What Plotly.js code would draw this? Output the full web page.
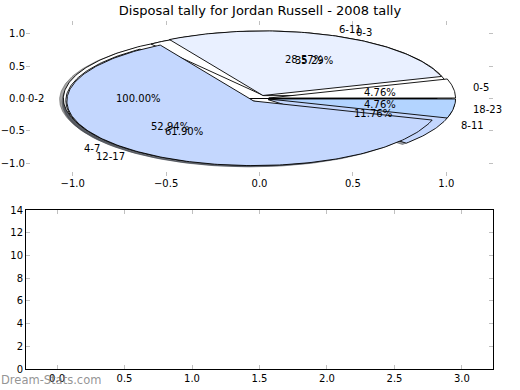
<!DOCTYPE html>
<html><head><meta charset="utf-8">
<script src="https://cdn.plot.ly/plotly-3.0.1.min.js"></script>
<style>html,body{margin:0;padding:0;background:#fff}</style>
</head><body><div id="chart" style="width:520px;height:390px"></div>
<script>
const titleText = 'Disposal tally for Jordan Russell - 2008 tally';
// Pie A (drawn first, underneath)
const pieALabels = ['0-2'];
const pieAValues = [1];
// Pie B
const pieBLabels = ['0-3', '4-7', '8-11'];
const pieBValues = [6, 9, 2];
// Pie C (drawn last, on top)
const pieCLabels = ['0-5', '6-11', '12-17', '18-23'];
const pieCValues = [1, 6, 13, 1];
const sliceColors = ['#ffffff', '#e9f0ff', '#c4d7fe', '#b3d4ff'];
// lower (empty) panel ticks
const lowerXTicks = [0, 0.5, 1, 1.5, 2, 2.5, 3];
const lowerYTicks = [0, 2, 4, 6, 8, 10, 12, 14];

const pies = [
  {labels: pieALabels, values: pieAValues},
  {labels: pieBLabels, values: pieBValues},
  {labels: pieCLabels, values: pieCValues}
];
const EXPLODE = 0.05, SHX = -0.02, SHY = -0.02, LABR = 1.1, PCTR = 0.6;
const FONT = 'DejaVu Sans, sans-serif';

function hexToRgb(h){const n=parseInt(h.slice(1),16);return [(n>>16)&255,(n>>8)&255,n&255];}
function wedgePts(t1,t2,cx,cy){
  const xs=[cx], ys=[cy];
  const n=Math.max(4,Math.ceil((t2-t1)*180/Math.PI));
  for(let i=0;i<=n;i++){const a=t1+(t2-t1)*i/n;xs.push(cx+Math.cos(a));ys.push(cy+Math.sin(a));}
  xs.push(cx); ys.push(cy);
  return {xs,ys};
}

const shadowTraces=[], wedgeTraces=[], annotations=[];
pies.forEach(p=>{
  const total=p.values.reduce((a,b)=>a+b,0);
  let theta=0;
  p.values.forEach((v,i)=>{
    const frac=v/total;
    const t1=theta, t2=theta+frac*2*Math.PI, mid=(t1+t2)/2;
    theta=t2;
    const cx=EXPLODE*Math.cos(mid), cy=EXPLODE*Math.sin(mid);
    const col=sliceColors[i%sliceColors.length];
    const rgb=hexToRgb(col);
    const w=wedgePts(t1,t2,cx,cy);
    const sc='rgba('+rgb.map(c=>Math.round(c*0.3)).join(',')+',0.5)';
    shadowTraces.push({type:'scatter',mode:'lines',x:w.xs.map(x=>x+SHX),y:w.ys.map(y=>y+SHY),
      fill:'toself',fillcolor:sc,line:{color:sc,width:1},hoverinfo:'skip',showlegend:false,xaxis:'x',yaxis:'y'});
    wedgeTraces.push({type:'scatter',mode:'lines',x:w.xs,y:w.ys,fill:'toself',fillcolor:col,
      line:{color:'#000',width:0.9},hoverinfo:'skip',showlegend:false,xaxis:'x',yaxis:'y'});
    const lx=cx+LABR*Math.cos(mid), ly=cy+LABR*Math.sin(mid);
    annotations.push({xref:'x',yref:'y',x:lx,y:ly,text:p.labels[i],showarrow:false,
      xanchor:lx>0?'left':'right',yanchor:'middle',font:{family:FONT,size:10,color:'#000'},borderpad:0});
    const px=cx+PCTR*Math.cos(mid), py=cy+PCTR*Math.sin(mid);
    annotations.push({xref:'x',yref:'y',x:px,y:py,text:(frac*100).toFixed(2)+'%',showarrow:false,
      xanchor:'center',yanchor:'middle',font:{family:FONT,size:10,color:'#000'},borderpad:0});
  });
});

annotations.push({xref:'paper',yref:'paper',x:-26/467,y:-11/348,xanchor:'left',yanchor:'middle',
  text:'Dream-Stats.com',showarrow:false,font:{family:FONT,size:11.5,color:'rgba(120,120,120,0.8)'},borderpad:0});

const emptyTrace={type:'scatter',mode:'markers',x:[],y:[],xaxis:'x2',yaxis:'y2',showlegend:false,hoverinfo:'skip'};

const tickCol='#c0c0c0';
const layout={
  width:520,height:390,paper_bgcolor:'#fff',plot_bgcolor:'rgba(0,0,0,0)',
  margin:{l:26,r:27,t:21,b:21},showlegend:false,
  font:{family:FONT,size:10,color:'#000'},
  title:{text:titleText,font:{family:FONT,size:13,color:'#000'},x:0.5,xanchor:'center',
    y:1-10/390,yref:'container',yanchor:'middle'},
  xaxis:{domain:[0,1],anchor:'y',range:[-1.25,1.25],dtick:0.5,tick0:0,tickformat:'.1f',
    showgrid:false,zeroline:false,showline:false,ticks:'inside',ticklen:4,tickcolor:tickCol,mirror:'ticks',
    tickfont:{family:FONT,size:10,color:'#000'},fixedrange:true},
  yaxis:{domain:[193/348,1],anchor:'x',range:[-1.2,1.2],dtick:0.5,tick0:0,tickformat:'.1f',
    showgrid:false,zeroline:false,showline:false,ticks:'inside',ticklen:4,tickcolor:tickCol,mirror:'ticks',
    tickfont:{family:FONT,size:10,color:'#000'},fixedrange:true},
  xaxis2:{domain:[0,1],anchor:'y2',range:[-0.23,3.23],tickvals:lowerXTicks,tickformat:'.1f',
    showgrid:false,zeroline:false,showline:true,linecolor:'#000',linewidth:1,mirror:'all',
    ticks:'inside',ticklen:4,tickcolor:tickCol,tickfont:{family:FONT,size:10,color:'#000'},fixedrange:true},
  yaxis2:{domain:[0,159/348],anchor:'x2',range:[0,14],tickvals:lowerYTicks,
    showgrid:false,zeroline:false,showline:true,linecolor:'#000',linewidth:1,mirror:'all',
    ticks:'inside',ticklen:4,tickcolor:tickCol,tickfont:{family:FONT,size:10,color:'#000'},fixedrange:true},
  annotations:annotations
};
Plotly.newPlot('chart',[...shadowTraces,...wedgeTraces,emptyTrace],layout,{displayModeBar:false,staticPlot:true});
</script></body></html>
